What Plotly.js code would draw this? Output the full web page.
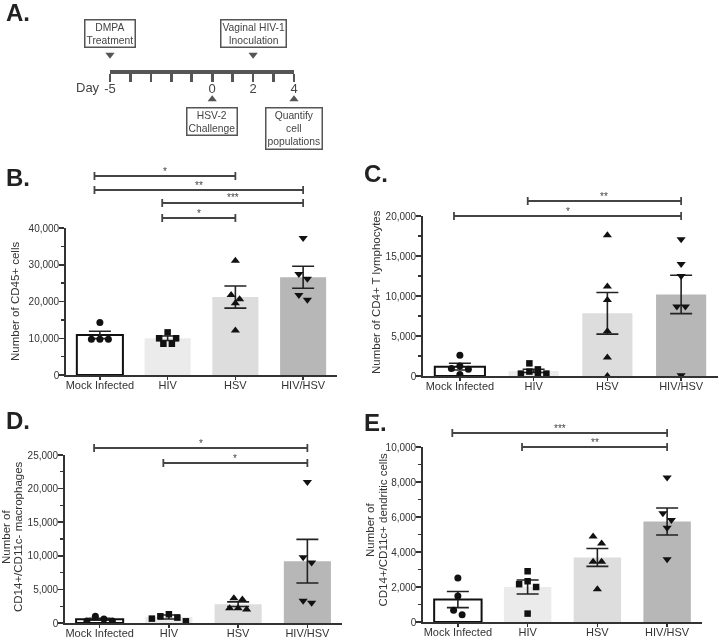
<!DOCTYPE html>
<html><head><meta charset="utf-8">
<script src="https://cdn.plot.ly/plotly-3.0.1.min.js"></script>
<style>html,body{margin:0;padding:0;background:#fff}#chart{width:720px;height:639px;will-change:transform}</style>
</head><body><div id="chart"></div>
<script>
// ---------- DATA ----------
const groups = ['Mock Infected', 'HIV', 'HSV', 'HIV/HSV'];

// Panel A timeline
const timelineDays = [-5, -4, -3, -2, -1, 0, 1, 2, 3, 4];
const labeledDays = [-5, 0, 2, 4];
const eventDays = [-5, 2, 0, 4];
const eventLabels = ['DMPA<br>Treatment', 'Vaginal HIV-1<br>Inoculation', 'HSV-2<br>Challenge', 'Quantify<br>cell<br>populations'];
const eventSides = ['above', 'above', 'below', 'below'];

// Panel B: CD45+ cells
const cd45Means = [10900, 10000, 21200, 26600];
const cd45Sem = [1000, 600, 3000, 3000];
const cd45Mock = [14300, 9700, 9700, 9700];
const cd45Hiv = [11600, 10000, 10000, 8500, 8500];
const cd45Hsv = [31100, 21800, 20600, 19500, 12100];
const cd45HivHsv = [37300, 27500, 26200, 21800, 20500];

// Panel C: CD4+ T lymphocytes
const cd4Means = [1170, 640, 7830, 10200];
const cd4Sem = [420, 200, 2600, 2400];
const cd4Mock = [2600, 1250, 950, 830, 200];
const cd4Hiv = [1580, 830, 550, 300, 300, 300];
const cd4Hsv = [17600, 11200, 9500, 5600, 2300, 0];
const cd4HivHsv = [17100, 14000, 12500, 8700, 8700, 100];

// Panel D: CD14+/CD11c- macrophages
const macMeans = [550, 900, 2800, 9200];
const macSem = [150, 300, 350, 3250];
const macMock = [1000, 600, 300, 300];
const macHiv = [1300, 1000, 800, 650, 250];
const macHsv = [3700, 3500, 2200, 2200, 2000];
const macHivHsv = [21000, 9800, 9000, 3300, 3000];

// Panel E: CD14+/CD11c+ dendritic cells
const dcMeans = [1280, 2000, 3690, 5740];
const dcSem = [460, 400, 510, 770];
const dcMock = [2520, 1490, 670, 420];
const dcHiv = [2900, 2330, 2160, 2000, 480];
const dcHsv = [4880, 4490, 3440, 3440, 1870];
const dcHivHsv = [8260, 6210, 5830, 5390, 3590];

// Significance brackets: [fromGroup, toGroup, label]
const sigB = [[0, 2, '*'], [0, 3, '**'], [1, 3, '***'], [1, 2, '*']];
const sigC = [[1, 3, '**'], [0, 3, '*']];
const sigD = [[0, 3, '*'], [1, 3, '*']];
const sigE = [[0, 3, '***'], [1, 3, '**']];

// ---------- LAYOUT HELPERS ----------
const W = 720, H = 639;
const FONT = 'Liberation Sans, Arial, Helvetica, sans-serif';
const px = v => v / W;
const py = v => 1 - v / H;
const barFills = ['#ffffff', '#ebebeb', '#dddddd', '#b7b7b7'];
const symbols = ['circle', 'square', 'triangle-up', 'triangle-down'];
const msizes = [7, 6.5, 8, 8];

const panels = [
  {id: '', letter: 'B.', lx: 4, ly: 177, xd: [66, 337], yd: [228, 375], max: 40000, dtick: 10000, minor: 5000,
   means: cd45Means, sem: cd45Sem, pts: [cd45Mock, cd45Hiv, cd45Hsv, cd45HivHsv], sig: sigB, sigY: [176, 190, 203, 218],
   title: ['Number of CD45+ cells'], tx: [15], ty: 302},
  {id: '2', letter: 'C.', lx: 362, ly: 173, xd: [423, 718], yd: [216, 376], max: 20000, dtick: 5000, minor: 2500,
   means: cd4Means, sem: cd4Sem, pts: [cd4Mock, cd4Hiv, cd4Hsv, cd4HivHsv], sig: sigC, sigY: [201, 216],
   title: ['Number of CD4+ T lymphocytes'], tx: [376], ty: 292},
  {id: '3', letter: 'D.', lx: 4, ly: 420, xd: [65, 342], yd: [455, 623], max: 25000, dtick: 5000, minor: 2500,
   means: macMeans, sem: macSem, pts: [macMock, macHiv, macHsv, macHivHsv], sig: sigD, sigY: [448, 463],
   title: ['Number of', 'CD14+/CD11c- macrophages'], tx: [6, 18], ty: 537},
  {id: '4', letter: 'E.', lx: 362, ly: 422, xd: [423, 702], yd: [447, 622], max: 10000, dtick: 2000, minor: 1000,
   means: dcMeans, sem: dcSem, pts: [dcMock, dcHiv, dcHsv, dcHivHsv], sig: sigE, sigY: [433, 447],
   title: ['Number of', 'CD14+/CD11c+ dendritic cells'], tx: [370, 382.5], ty: 530}
];

// beeswarm-like row layout (pixel offsets)
function swarmOffsets(vals, pxPerUnit, thr, step) {
  const idx = vals.map((v, i) => i).sort((a, b) => vals[b] - vals[a]);
  const off = new Array(vals.length).fill(0);
  let k = 0;
  while (k < idx.length) {
    const row = [idx[k]];
    const top = vals[idx[k]] * pxPerUnit;
    let j = k + 1;
    while (j < idx.length && top - vals[idx[j]] * pxPerUnit < thr) { row.push(idx[j]); j++; }
    const n = row.length;
    const slots = [];
    for (let s = 0; s < n; s++) slots.push((s - (n - 1) / 2) * step);
    slots.sort((a, b) => Math.abs(a) - Math.abs(b) || a - b);
    row.forEach((p, i) => { off[p] = slots[i]; });
    k = j;
  }
  return off;
}

const traces = [];
const shapes = [];
const annotations = [];
const layout = {
  width: W, height: H, autosize: false,
  margin: {l: 0, r: 0, t: 0, b: 0},
  paper_bgcolor: '#fff', plot_bgcolor: 'rgba(0,0,0,0)',
  showlegend: false,
  font: {family: FONT, color: '#333', size: 11},
  shapes: shapes, annotations: annotations
};

panels.forEach(p => {
  const xa = 'x' + p.id, ya = 'y' + p.id;
  const xKey = 'xaxis' + p.id, yKey = 'yaxis' + p.id;
  layout[xKey] = {
    domain: [px(p.xd[0]), px(p.xd[1])], range: [-0.5, 3.5], anchor: ya,
    tickvals: [0, 1, 2, 3], ticktext: groups,
    showline: true, linecolor: '#333', linewidth: 1.8,
    ticks: 'outside', ticklen: 3, tickwidth: 1.5, tickcolor: '#333',
    ticklabelstandoff: -4,
    tickfont: {size: 11, color: '#333', family: FONT},
    showgrid: false, zeroline: false, fixedrange: true
  };
  layout[yKey] = {
    domain: [py(p.yd[1]), py(p.yd[0])], range: [0, p.max], anchor: xa,
    tick0: 0, dtick: p.dtick, tickformat: ',d',
    showline: true, linecolor: '#333', linewidth: 1.8,
    ticks: 'outside', ticklen: 5, tickwidth: 1.5, tickcolor: '#333',
    ticklabelstandoff: -2,
    minor: {dtick: p.minor, ticks: 'outside', ticklen: 3, tickwidth: 1.3, tickcolor: '#333', showgrid: false},
    tickfont: {size: 10, color: '#333', family: FONT},
    showgrid: false, zeroline: false, fixedrange: true
  };
  // bars with SEM
  traces.push({
    type: 'bar', x: [0, 1, 2, 3], y: p.means, width: 0.68,
    xaxis: xa, yaxis: ya,
    marker: {color: barFills, line: {color: '#111', width: [2, 0, 0, 0]}},
    error_y: {type: 'data', array: p.sem, visible: true, color: '#222', thickness: 1.6, width: 11},
    hoverinfo: 'skip'
  });
  // points
  const pxPerUnit = (p.yd[1] - p.yd[0]) / p.max;
  const pxPerCat = (p.xd[1] - p.xd[0]) / 4;
  p.pts.forEach((vals, gi) => {
    const off = swarmOffsets(vals, pxPerUnit, 8, 8.5);
    traces.push({
      type: 'scatter', mode: 'markers', xaxis: xa, yaxis: ya, cliponaxis: false,
      x: vals.map((v, i) => gi + off[i] / pxPerCat), y: vals,
      marker: {symbol: symbols[gi], size: msizes[gi], color: '#111', line: {width: 0}},
      hoverinfo: 'skip'
    });
  });
  // significance brackets
  p.sig.forEach((s, si) => {
    const x0 = s[0] - 0.08, x1 = s[1];
    const yy = py(p.sigY[si]);
    const cap = 4 / H;
    const ln = {color: '#444', width: 1.8};
    shapes.push({type: 'line', xref: xa, yref: 'paper', x0: x0, x1: x1, y0: yy, y1: yy, line: ln});
    shapes.push({type: 'line', xref: xa, yref: 'paper', x0: x0, x1: x0, y0: yy - cap, y1: yy + cap, line: ln});
    shapes.push({type: 'line', xref: xa, yref: 'paper', x0: x1, x1: x1, y0: yy - cap, y1: yy + cap, line: ln});
    annotations.push({xref: xa, yref: 'paper', x: (x0 + x1) / 2, y: yy, yshift: 5, text: s[2],
      showarrow: false, xanchor: 'center', yanchor: 'middle', font: {size: 10, color: '#444', family: FONT}});
  });
  // y-axis title
  p.title.forEach((t, ti) => {
    annotations.push({xref: 'paper', yref: 'paper', x: px(p.tx[ti]), y: py(p.ty), text: t, textangle: -90,
      showarrow: false, xanchor: 'center', yanchor: 'middle', font: {size: 11.5, color: '#333', family: FONT}});
  });
  // panel letter
  annotations.push({xref: 'paper', yref: 'paper', x: px(p.lx), y: py(p.ly), text: '<b>' + p.letter + '</b>',
    showarrow: false, xanchor: 'left', yanchor: 'middle', font: {size: 24, color: '#222', family: FONT}});
});

// ---------- Panel A: timeline ----------
layout.xaxis5 = {
  domain: [px(110), px(294)], range: [-5, 4], anchor: 'free', position: py(71),
  tickvals: timelineDays, ticktext: timelineDays.map(d => labeledDays.includes(d) ? String(d) : ''),
  showline: true, linecolor: '#555', linewidth: 3.5,
  ticks: 'outside', ticklen: 8, tickwidth: 2.6, tickcolor: '#555',
  ticklabelstandoff: -4,
  tickfont: {size: 13, color: '#444', family: FONT},
  showgrid: false, zeroline: false, fixedrange: true
};
layout.yaxis5 = {domain: [py(131), py(11)], range: [-1, 1], anchor: 'x5', visible: false, fixedrange: true};

traces.push({
  type: 'scatter', mode: 'markers', xaxis: 'x5', yaxis: 'y5', cliponaxis: false,
  x: eventDays, y: eventSides.map(s => s === 'above' ? 0.27 : -0.47),
  marker: {symbol: eventSides.map(s => s === 'above' ? 'triangle-down' : 'triangle-up'), size: 8, color: '#555'},
  hoverinfo: 'skip'
});
eventDays.forEach((d, i) => {
  const above = eventSides[i] === 'above';
  annotations.push({xref: 'x5', yref: 'y5', x: d, y: above ? 0.38 : -0.6, text: eventLabels[i],
    showarrow: false, xanchor: 'center', yanchor: above ? 'bottom' : 'top',
    bordercolor: '#555', borderwidth: 1.5, borderpad: 1, bgcolor: '#fff',
    font: {size: 10.3, color: '#444', family: FONT}});
});
annotations.push({xref: 'x5', yref: 'y5', x: -5, y: -0.28, xshift: -8, text: 'Day', showarrow: false,
  xanchor: 'right', yanchor: 'middle', font: {size: 13, color: '#444', family: FONT}});
annotations.push({xref: 'paper', yref: 'paper', x: px(4), y: py(12), text: '<b>A.</b>', showarrow: false,
  xanchor: 'left', yanchor: 'middle', font: {size: 24, color: '#222', family: FONT}});

Plotly.newPlot('chart', traces, layout, {staticPlot: true, displayModeBar: false});
</script>
</body></html>
